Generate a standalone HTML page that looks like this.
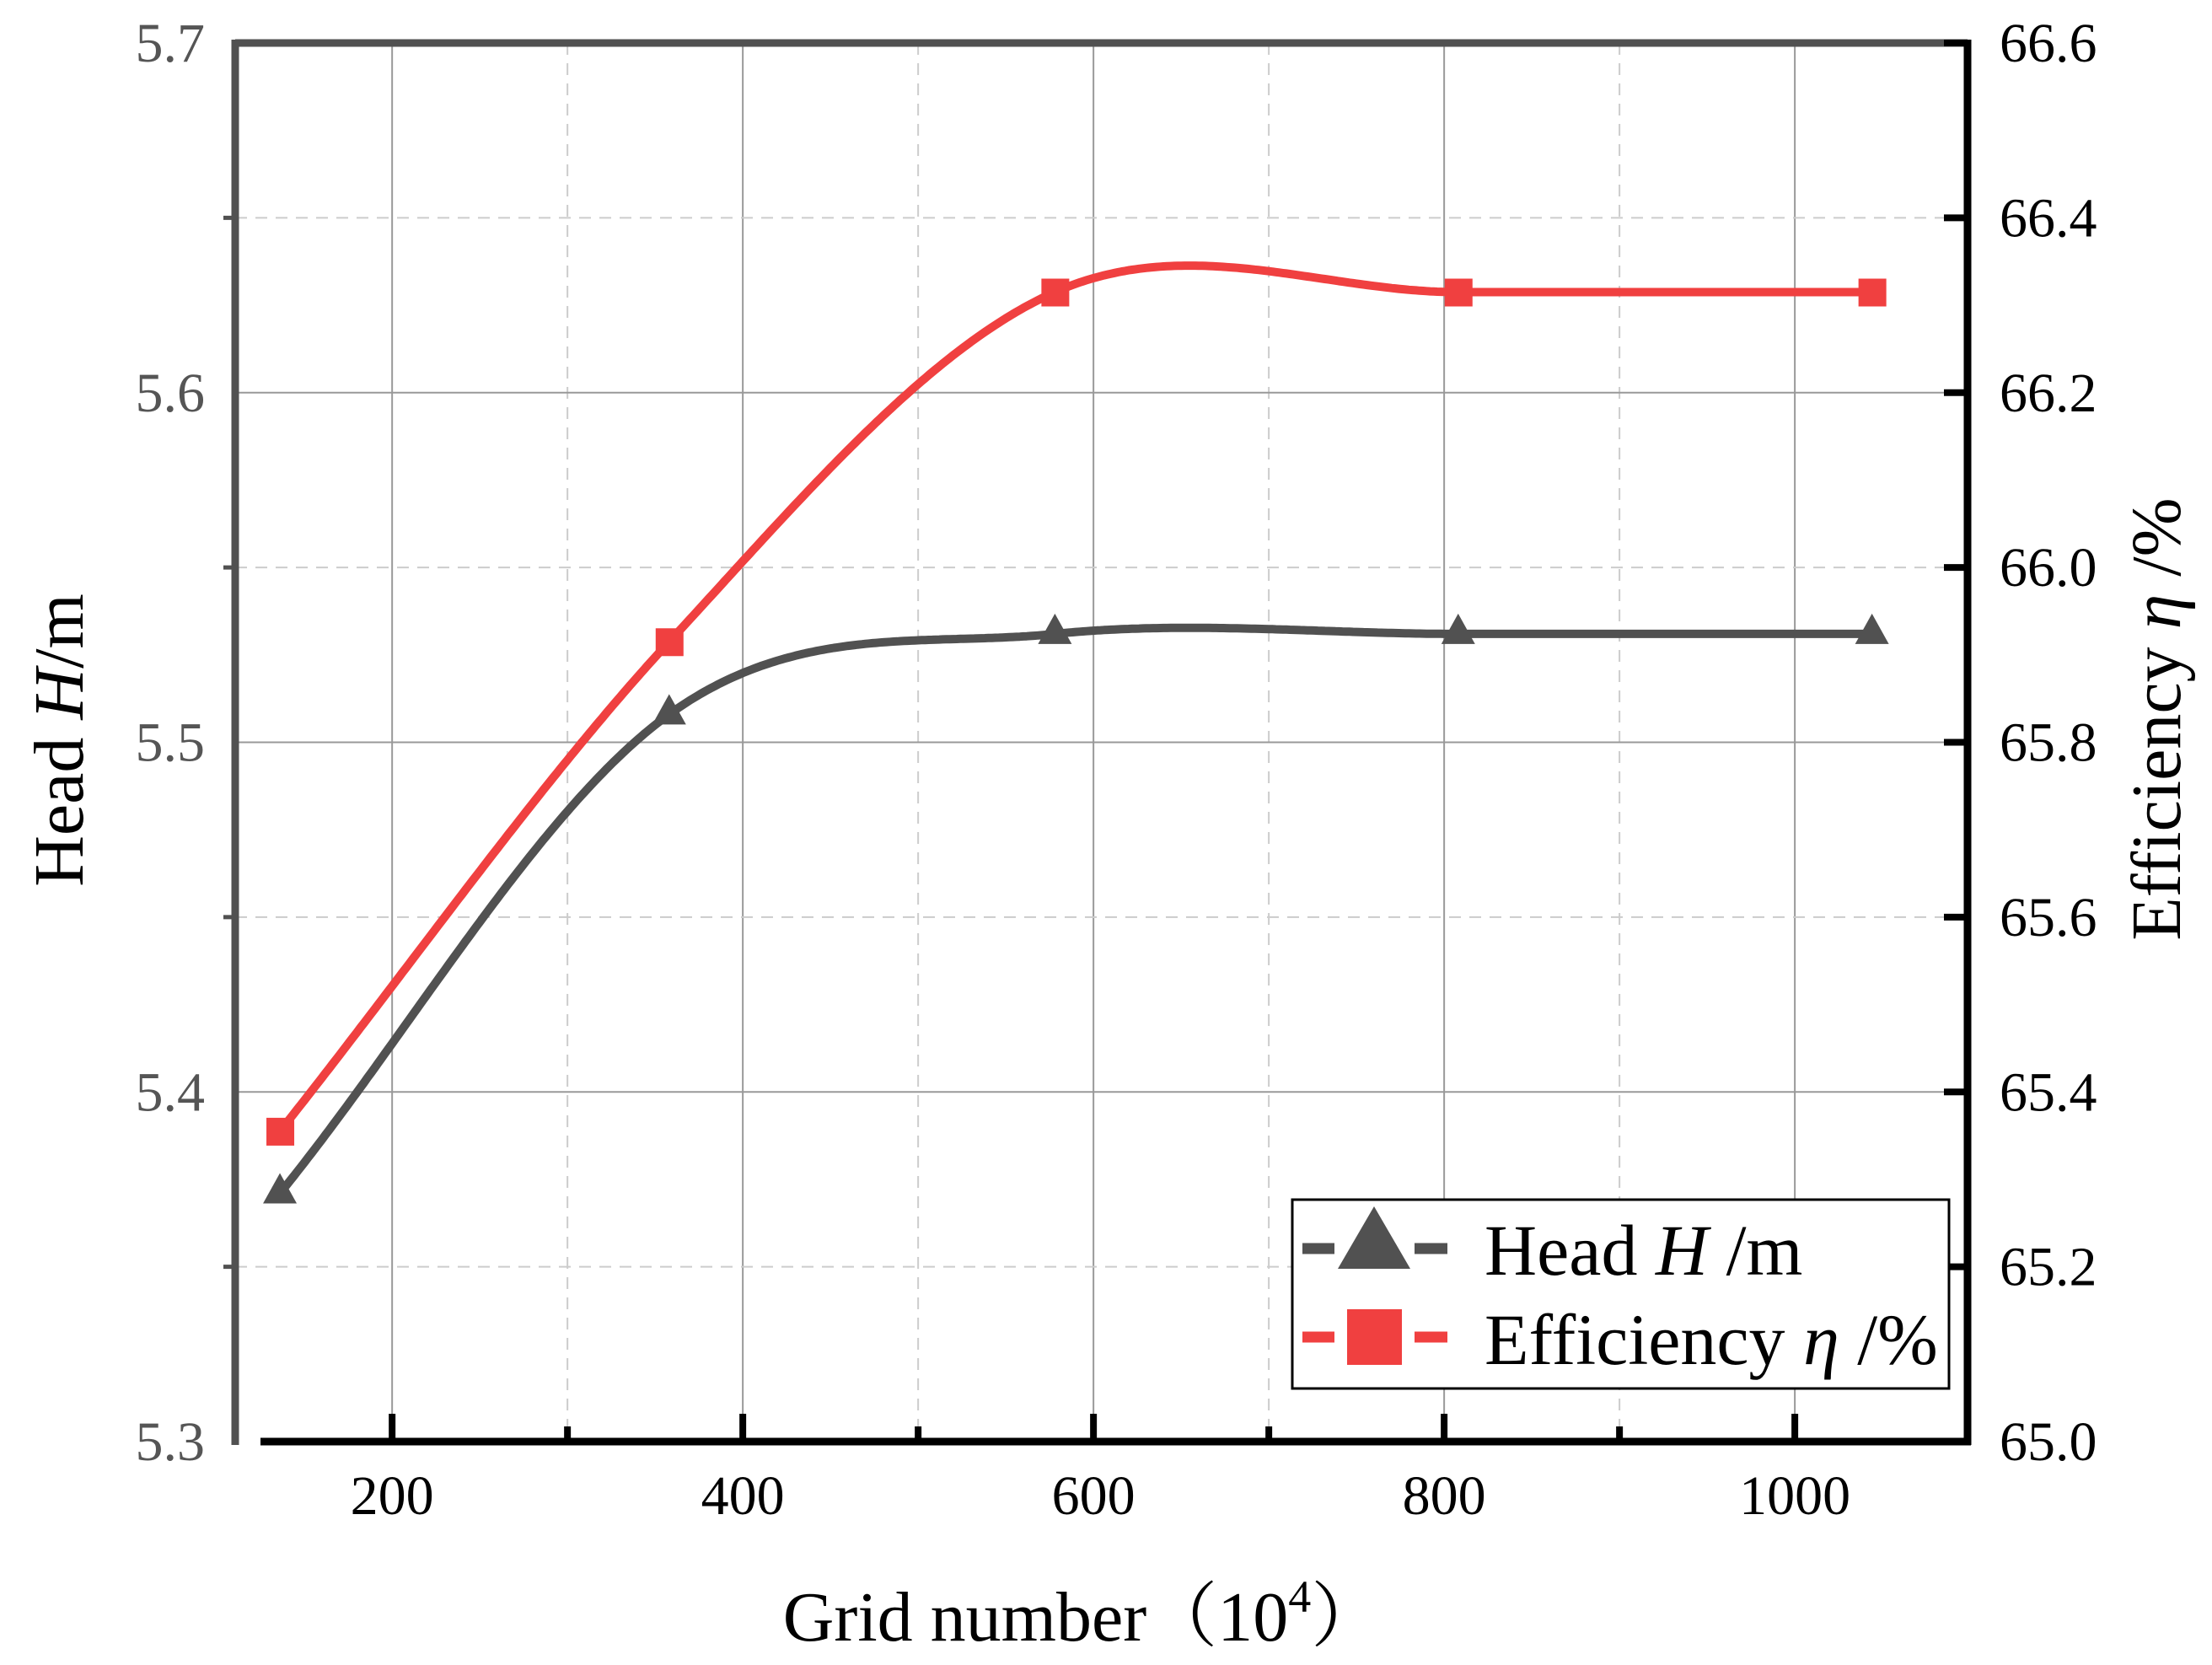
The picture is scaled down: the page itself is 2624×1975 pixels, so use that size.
<!DOCTYPE html>
<html><head><meta charset="utf-8"><style>
html,body{margin:0;padding:0;background:#fff}
svg{display:block;font-family:"Liberation Serif","Noto Serif CJK SC",serif}
</style></head><body>
<svg id="c" width="2624" height="1975" viewBox="0 0 2624 1975" xmlns="http://www.w3.org/2000/svg">
<g id="grid"></g>
<g id="series"></g>
<g id="axes"></g>
<g id="legend">
  <rect x="1533" y="1423" width="779" height="224" fill="#fff" stroke="#000" stroke-width="3"/>
  <g>
    <line x1="1545" y1="1481" x2="1583" y2="1481" stroke="#515151" stroke-width="13"/>
    <line x1="1678" y1="1481" x2="1717" y2="1481" stroke="#515151" stroke-width="13"/>
    <polygon points="1630,1431 1673,1505 1587,1505" fill="#515151"/>
    <text x="1761" y="1512" font-size="86" fill="#000">Head <tspan font-style="italic">H</tspan> /m</text>
  </g>
  <g>
    <line x1="1545" y1="1586" x2="1583" y2="1586" stroke="#f04040" stroke-width="13"/>
    <line x1="1678" y1="1586" x2="1717" y2="1586" stroke="#f04040" stroke-width="13"/>
    <rect x="1598" y="1553" width="65" height="66" fill="#f04040"/>
    <text x="1761" y="1618" font-size="86" fill="#000">Efficiency <tspan font-style="italic">η</tspan> /%</text>
  </g>
</g>
<text x="0" y="0" transform="translate(98,878) rotate(-90)" text-anchor="middle" font-size="84" fill="#000">Head <tspan font-style="italic">H</tspan>/m</text>
<text x="0" y="0" transform="translate(2586,853) rotate(-90)" text-anchor="middle" font-size="84" fill="#000">Efficiency <tspan font-style="italic">η</tspan>  /%</text>
<text x="1284" y="1946" text-anchor="middle" font-size="84" fill="#000">Grid number（10<tspan font-size="54" dy="-34">4</tspan><tspan dy="34">）</tspan></text>
</svg>
<script>
const gridX = [136, 358, 578, 808, 1044];
const headValues = [5.371, 5.508, 5.531, 5.531, 5.531];
const effValues = [65.355, 65.915, 66.315, 66.315, 66.315];
const xTicks = [200, 400, 600, 800, 1000];
const xMinorTicks = [300, 500, 700, 900];
const leftTicks = [5.3, 5.4, 5.5, 5.6, 5.7];
const leftMinor = [5.35, 5.45, 5.55, 5.65];
const rightTicks = [65.0, 65.2, 65.4, 65.6, 65.8, 66.0, 66.2, 66.4, 66.6];

const NS = "http://www.w3.org/2000/svg";
const L = 279, R = 2334, T = 51, B = 1710;
const xMin = 110.5, xMax = 1098.5;
const sx = v => L + (v - xMin) / (xMax - xMin) * (R - L);
const syL = v => B - (v - 5.3) / 0.4 * (B - T);
const syR = v => B - (v - 65.0) / 1.6 * (B - T);
function mk(tag, attrs, parent) { const e = document.createElementNS(NS, tag); for (const k in attrs) e.setAttribute(k, attrs[k]); parent.appendChild(e); return e; }
const grid = document.getElementById('grid'), axes = document.getElementById('axes'), series = document.getElementById('series');

xTicks.forEach(v => { const l = mk('line', {x1: sx(v), x2: sx(v), y1: T, y2: B, stroke: '#999', 'stroke-width': 2}, grid);
  
   });
xMinorTicks.forEach(v => { const l = mk('line', {x1: sx(v), x2: sx(v), y1: T, y2: B, stroke: '#ccc', 'stroke-width': 2, 'stroke-dasharray': '14 10'}, grid);
  
   });
leftTicks.slice(1, -1).forEach(v => { const l = mk('line', {x1: L, x2: R, y1: syL(v), y2: syL(v), stroke: '#999', 'stroke-width': 2}, grid);
  
   });
leftMinor.forEach(v => { const l = mk('line', {x1: L, x2: R, y1: syL(v), y2: syL(v), stroke: '#ccc', 'stroke-width': 2, 'stroke-dasharray': '14 10'}, grid);
  
   });

// Catmull-Rom style cubic Hermite in data space
function hermite(xs, ys) {
  const n = xs.length, m = [];
  for (let i = 0; i < n; i++) {
    if (i === 0) m.push((ys[1] - ys[0]) / (xs[1] - xs[0]));
    else if (i === n - 1) m.push((ys[n - 1] - ys[n - 2]) / (xs[n - 1] - xs[n - 2]));
    else m.push((ys[i + 1] - ys[i - 1]) / (xs[i + 1] - xs[i - 1]));
  }
  return x => { let i = 0; while (i < n - 2 && x > xs[i + 1]) i++;
    const h = xs[i + 1] - xs[i], t = (x - xs[i]) / h, t2 = t * t, t3 = t2 * t;
    return (2*t3 - 3*t2 + 1) * ys[i] + (t3 - 2*t2 + t) * h * m[i] + (-2*t3 + 3*t2) * ys[i + 1] + (t3 - t2) * h * m[i + 1]; };
}
function curve(vals, sy, color, name) {
  const f = hermite(gridX, vals); let p = '';
  for (let x = gridX[0]; x <= gridX[gridX.length - 1] + 0.01; x += 2) p += (p ? 'L' : 'M') + sx(x).toFixed(1) + ',' + sy(f(x)).toFixed(1);
  const e = mk('path', {d: p, fill: 'none', stroke: color, 'stroke-width': 10, 'stroke-linejoin': 'round'}, series);
  
  
}
curve(headValues, syL, '#515151', 'head-line');
curve(effValues, syR, '#f04040', 'efficiency-line');
gridX.forEach((x, i) => {
  const cx = sx(x), cy = syL(headValues[i]);
  const t = mk('polygon', {points: `${cx},${cy - 24} ${cx + 20},${cy + 12} ${cx - 20},${cy + 12}`, fill: '#515151'}, series);
  
  
  const ey = syR(effValues[i]);
  const s = mk('rect', {x: cx - 16, y: ey - 16, width: 33, height: 33, fill: '#f04040'}, series);
  
  
});

mk('line', {x1: L, x2: R, y1: T, y2: T, stroke: '#515151', 'stroke-width': 9}, axes);
mk('line', {x1: L, x2: L, y1: T - 4, y2: B + 4, stroke: '#515151', 'stroke-width': 9}, axes);
mk('line', {x1: L + 30, x2: R + 4, y1: B, y2: B, stroke: '#000', 'stroke-width': 9}, axes);
mk('line', {x1: R, x2: R, y1: T - 4, y2: B + 4, stroke: '#000', 'stroke-width': 9}, axes);
xTicks.forEach(v => { mk('line', {x1: sx(v), x2: sx(v), y1: B, y2: B - 33, stroke: '#000', 'stroke-width': 8}, axes);
  const t = mk('text', {x: sx(v), y: 1796, 'text-anchor': 'middle', 'font-size': 66, fill: '#000'}, axes); t.textContent = v;
  
   });
xMinorTicks.forEach(v => mk('line', {x1: sx(v), x2: sx(v), y1: B, y2: B - 18, stroke: '#000', 'stroke-width': 8}, axes));
leftTicks.forEach(v => { const t = mk('text', {x: 243, y: syL(v) + 22, 'text-anchor': 'end', 'font-size': 66, fill: '#555'}, axes); t.textContent = v.toFixed(1);
  
   });
leftMinor.forEach(v => mk('line', {x1: L - 14, x2: L, y1: syL(v), y2: syL(v), stroke: '#515151', 'stroke-width': 5}, axes));
rightTicks.forEach(v => { mk('line', {x1: R - 28, x2: R, y1: syR(v), y2: syR(v), stroke: '#000', 'stroke-width': 8}, axes);
  const t = mk('text', {x: 2372, y: syR(v) + 22, 'font-size': 66, fill: '#000'}, axes); t.textContent = v.toFixed(1);
  
   });
</script>
</body></html>
